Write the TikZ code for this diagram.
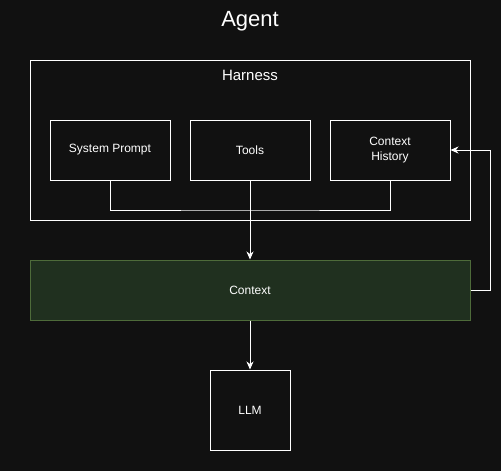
\documentclass[tikz,border=0pt]{standalone}
\usepackage{fontspec}
\setmainfont{Liberation Sans}
\usetikzlibrary{arrows.meta}
\definecolor{bg}{HTML}{111111}
\definecolor{ctxfill}{HTML}{20301F}
\definecolor{ctxline}{HTML}{4E6B3A}
\tikzset{
  box/.style={draw=white, line width=1pt, minimum width=120pt, minimum height=60pt, inner sep=0pt, text=white, font=\fontsize{12}{15}\selectfont, align=center},
  conn/.style={draw=white, line width=1pt},
  arr/.style={conn, -{Stealth[length=8pt, width=7pt, inset=2.5pt]}},
}
\begin{document}
\begin{tikzpicture}[x=1pt, y=-1pt]
\fill[bg] (0,0) rectangle (501,471);
\useasboundingbox (0,0) rectangle (501,471);
\node[text=white, font=\fontsize{22}{26}\selectfont] (agent) at (250,21) {Agent};
\node[draw=white, line width=1pt, minimum width=440pt, minimum height=160pt, inner sep=0pt] (harness) at (250,140) {};
\node[text=white, font=\fontsize{15}{18}\selectfont] (hlabel) at (250,75) {Harness};
\node[box] (sp) at (110,150) {System Prompt};
\node[box] (tools) at (250,150) {Tools};
\node[box] (ch) at (390,150) {Context\\History};
\node[draw=ctxline, fill=ctxfill, line width=1pt, minimum width=440pt, minimum height=60pt, inner sep=0pt, text=white, font=\fontsize{12}{14}\selectfont] (ctx) at (250,290) {Context};
\node[box, minimum width=80pt, minimum height=80pt] (llm) at (250,410) {LLM};
\draw[conn] (sp.south) |- (250,210) -| (ch.south);
\draw[arr] (tools.south) -- (ctx.north);
\draw[arr] (ctx.east) -- ++(20,0) |- (ch.east);
\draw[arr] (ctx.south) -- (llm.north);
\end{tikzpicture}
\end{document}
